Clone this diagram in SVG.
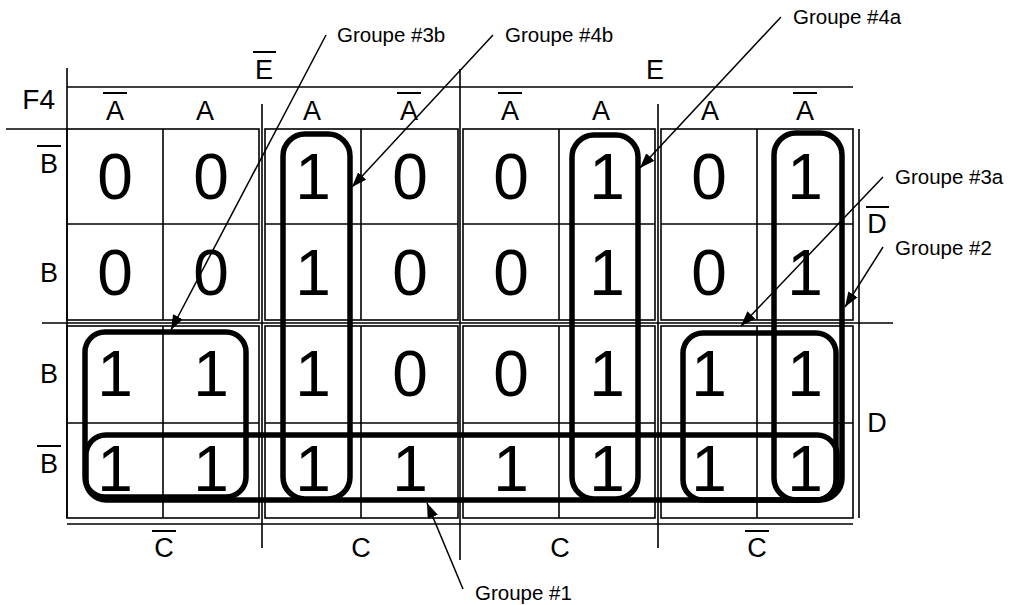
<svg xmlns="http://www.w3.org/2000/svg" width="1011" height="605" viewBox="0 0 1011 605">
<style>
 .g{fill:none;stroke:#000;stroke-width:1.6}
 .s{stroke:#000;stroke-width:1.6;fill:none}
 .ov{stroke:#000;stroke-width:2}
 .loop{fill:none;stroke:#000;stroke-width:5.5}
 .lbl{font-family:"Liberation Sans",Arial,sans-serif;font-size:27px;fill:#000;text-anchor:middle}
 .d{font-family:"Liberation Sans",Arial,sans-serif;font-size:64px;fill:#000;text-anchor:middle}
 .gl{font-family:"Liberation Sans",Arial,sans-serif;font-size:20.5px;fill:#000}
 .ar{stroke:#000;stroke-width:1.5;fill:none;marker-end:url(#ah)}
</style>
<defs>
 <marker id="ah" markerWidth="15" markerHeight="11" refX="15" refY="5.5" orient="auto" markerUnits="userSpaceOnUse"><path d="M0,0 L15,5.5 L0,11 z" fill="#000"/></marker>
</defs>
<rect width="1011" height="605" fill="#fff"/>

<g id="frame">
 <line class="s" x1="67" y1="68" x2="67" y2="518"/>
 <line class="s" x1="67" y1="87" x2="853" y2="87"/>
 <line class="s" x1="6" y1="129" x2="67" y2="129"/>
 <line class="s" x1="42" y1="323" x2="893" y2="323"/>
 <line class="s" x1="262" y1="104" x2="262" y2="548"/>
 <line class="s" x1="460" y1="69" x2="460" y2="560"/>
 <line class="s" x1="658" y1="104" x2="658" y2="548"/>
 <line class="s" x1="859" y1="129" x2="859" y2="518"/>
 <line class="s" x1="67" y1="524" x2="853" y2="524"/>
</g>

<g id="blocks">
 <g id="block-1-1"><rect class="g" x="67" y="129" width="192" height="191"/><line class="s" x1="163" y1="129" x2="163" y2="320"/><line class="s" x1="67" y1="224" x2="259" y2="224"/></g>
 <g id="block-1-2"><rect class="g" x="265" y="129" width="193" height="191"/><line class="s" x1="361" y1="129" x2="361" y2="320"/><line class="s" x1="265" y1="224" x2="458" y2="224"/></g>
 <g id="block-1-3"><rect class="g" x="463" y="129" width="192" height="191"/><line class="s" x1="559" y1="129" x2="559" y2="320"/><line class="s" x1="463" y1="224" x2="655" y2="224"/></g>
 <g id="block-1-4"><rect class="g" x="661" y="129" width="192" height="191"/><line class="s" x1="757" y1="129" x2="757" y2="320"/><line class="s" x1="661" y1="224" x2="853" y2="224"/></g>
 <g id="block-2-1"><rect class="g" x="67" y="326" width="192" height="192"/><line class="s" x1="163" y1="326" x2="163" y2="518"/><line class="s" x1="67" y1="423" x2="259" y2="423"/></g>
 <g id="block-2-2"><rect class="g" x="265" y="326" width="193" height="192"/><line class="s" x1="361" y1="326" x2="361" y2="518"/><line class="s" x1="265" y1="423" x2="458" y2="423"/></g>
 <g id="block-2-3"><rect class="g" x="463" y="326" width="192" height="192"/><line class="s" x1="559" y1="326" x2="559" y2="518"/><line class="s" x1="463" y1="423" x2="655" y2="423"/></g>
 <g id="block-2-4"><rect class="g" x="661" y="326" width="192" height="192"/><line class="s" x1="757" y1="326" x2="757" y2="518"/><line class="s" x1="661" y1="423" x2="853" y2="423"/></g>
</g>

<g id="labels">
 <text class="lbl" x="55" y="109" style="text-anchor:end;font-size:28px">F4</text>
 <text class="lbl" x="264" y="79">E</text><line class="ov" x1="253" y1="52" x2="276" y2="52"/>
 <text class="lbl" x="655" y="79">E</text>
 <text class="lbl" x="115" y="120">A</text><line class="ov" x1="103" y1="93" x2="127" y2="93"/>
 <text class="lbl" x="205" y="120">A</text>
 <text class="lbl" x="312" y="120">A</text>
 <text class="lbl" x="409" y="120">A</text><line class="ov" x1="397" y1="93" x2="421" y2="93"/>
 <text class="lbl" x="510" y="120">A</text><line class="ov" x1="498" y1="93" x2="522" y2="93"/>
 <text class="lbl" x="601" y="120">A</text>
 <text class="lbl" x="710" y="120">A</text>
 <text class="lbl" x="805" y="120">A</text><line class="ov" x1="793" y1="93" x2="817" y2="93"/>
 <text class="lbl" x="49" y="173">B</text><line class="ov" x1="37" y1="146" x2="61" y2="146"/>
 <text class="lbl" x="49" y="282">B</text>
 <text class="lbl" x="49" y="383">B</text>
 <text class="lbl" x="49" y="473">B</text><line class="ov" x1="37" y1="446" x2="61" y2="446"/>
 <text class="lbl" x="877" y="233">D</text><line class="ov" x1="866" y1="207" x2="889" y2="207"/>
 <text class="lbl" x="877" y="432">D</text>
 <text class="lbl" x="164" y="557">C</text><line class="ov" x1="152" y1="531" x2="176" y2="531"/>
 <text class="lbl" x="361" y="557">C</text>
 <text class="lbl" x="560" y="557">C</text>
 <text class="lbl" x="757" y="557">C</text><line class="ov" x1="745" y1="531" x2="769" y2="531"/>
</g>

<g id="values">
 <text class="d" x="115" y="199">0</text><text class="d" x="211" y="199">0</text><text class="d" x="313" y="199">1</text><text class="d" x="410" y="199">0</text><text class="d" x="511" y="199">0</text><text class="d" x="607" y="199">1</text><text class="d" x="709" y="199">0</text><text class="d" x="805" y="199">1</text>
 <text class="d" x="115" y="295">0</text><text class="d" x="211" y="295">0</text><text class="d" x="313" y="295">1</text><text class="d" x="410" y="295">0</text><text class="d" x="511" y="295">0</text><text class="d" x="607" y="295">1</text><text class="d" x="709" y="295">0</text><text class="d" x="805" y="295">1</text>
 <text class="d" x="115" y="396">1</text><text class="d" x="211" y="396">1</text><text class="d" x="313" y="396">1</text><text class="d" x="410" y="396">0</text><text class="d" x="511" y="396">0</text><text class="d" x="607" y="396">1</text><text class="d" x="709" y="396">1</text><text class="d" x="805" y="396">1</text>
 <text class="d" x="115" y="491">1</text><text class="d" x="211" y="491">1</text><text class="d" x="313" y="491">1</text><text class="d" x="410" y="491">1</text><text class="d" x="511" y="491">1</text><text class="d" x="607" y="491">1</text><text class="d" x="709" y="491">1</text><text class="d" x="805" y="491">1</text>
</g>

<g id="groups">
 <rect id="groupe-1" class="loop" x="86" y="435" width="751" height="65" rx="20"/>
 <rect id="groupe-2" class="loop" x="774" y="133" width="68" height="367" rx="22"/>
 <rect id="groupe-3a" class="loop" x="683" y="333" width="153" height="167" rx="20"/>
 <rect id="groupe-3b" class="loop" x="85" y="332" width="161" height="165" rx="20"/>
 <rect id="groupe-4a" class="loop" x="572" y="135" width="66" height="364" rx="22"/>
 <rect id="groupe-4b" class="loop" x="283" y="134" width="67" height="365" rx="22"/>
</g>

<g id="connectors">
 <line class="ar" x1="326" y1="35" x2="171" y2="330"/>
 <line class="ar" x1="493" y1="35" x2="352" y2="187"/>
 <line class="ar" x1="781" y1="17" x2="640" y2="168"/>
 <line class="ar" x1="883" y1="177" x2="741" y2="326"/>
 <line class="ar" x1="883" y1="247" x2="845" y2="307"/>
 <line class="ar" x1="463" y1="589" x2="427" y2="503"/>
</g>

<g id="group-labels">
 <text class="gl" x="337" y="42">Groupe #3b</text>
 <text class="gl" x="505" y="42">Groupe #4b</text>
 <text class="gl" x="793" y="24">Groupe #4a</text>
 <text class="gl" x="895" y="184">Groupe #3a</text>
 <text class="gl" x="895" y="255">Groupe #2</text>
 <text class="gl" x="475" y="600">Groupe #1</text>
</g>
</svg>
